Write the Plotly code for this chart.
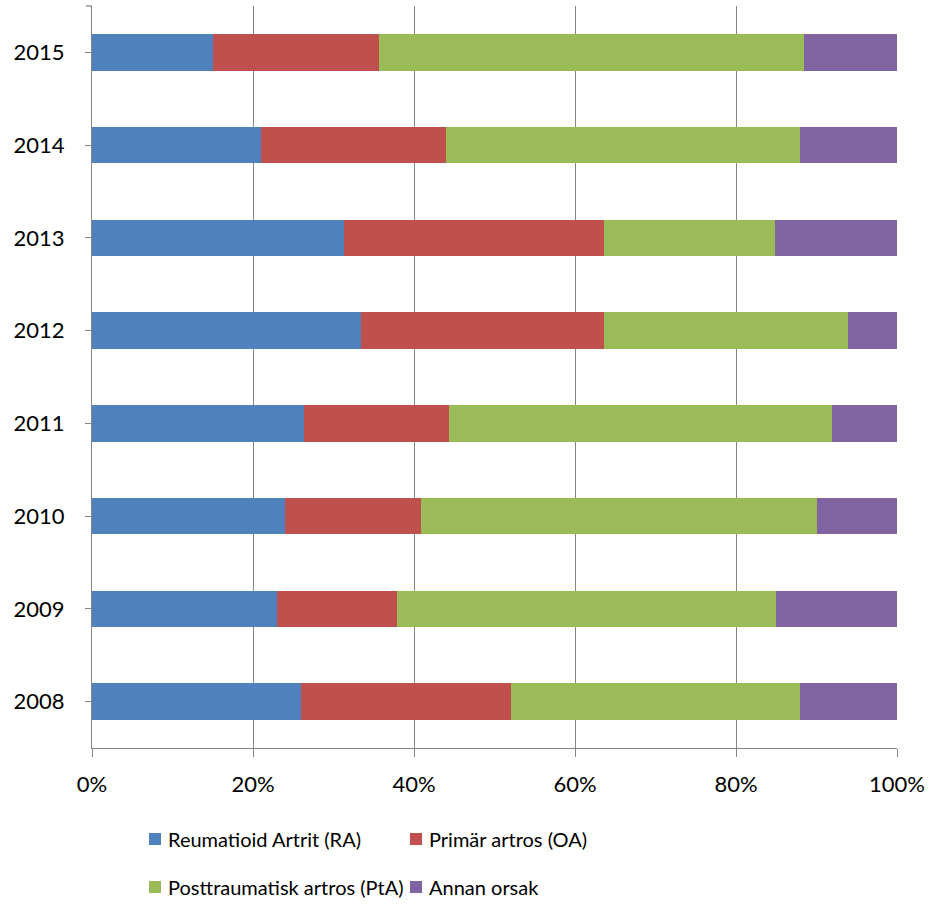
import plotly.graph_objects as go

# Orsak till primäroperation per år (andel i procent)
years = ["2008", "2009", "2010", "2011", "2012", "2013", "2014", "2015"]
series_names = [
    "Reumatioid Artrit (RA)",
    "Primär artros (OA)",
    "Posttraumatisk artros (PtA)",
    "Annan orsak",
]
ra = [26.0, 23.0, 24.0, 26.3, 33.4, 31.3, 21.0, 15.0]
oa = [26.0, 14.9, 16.9, 18.1, 30.2, 32.3, 23.0, 20.6]
pta = [36.0, 47.1, 49.1, 47.5, 30.3, 21.3, 44.0, 52.9]
annan = [12.0, 15.0, 10.0, 8.1, 6.1, 15.1, 12.0, 11.5]
x_ticks = [0, 20, 40, 60, 80, 100]
x_tick_labels = ["0%", "20%", "40%", "60%", "80%", "100%"]

colors = ["#4F81BD", "#C0504D", "#9BBB59", "#8064A2"]
values = [ra, oa, pta, annan]

W, H = 930, 904
L, R, T, B = 92, 33, 6, 156
FONT = "Lato"
AXIS_GRAY = "#868686"

fig = go.Figure()
for name, vals, col in zip(series_names, values, colors):
    fig.add_trace(go.Bar(
        y=years, x=vals, name=name, orientation="h",
        marker=dict(color=col, line=dict(width=0)),
        showlegend=False,
    ))

fig.update_layout(
    width=W, height=H,
    margin=dict(l=L, r=R, t=T, b=B, pad=0),
    barmode="stack", barnorm="percent", bargap=0.604,
    plot_bgcolor="white", paper_bgcolor="white",
    font=dict(family=FONT, size=22, color="black"),
)
fig.update_xaxes(
    range=[0, 100], tickmode="array", tickvals=x_ticks, ticktext=x_tick_labels,
    showgrid=True, gridcolor=AXIS_GRAY, gridwidth=1.3,
    showline=True, linecolor=AXIS_GRAY, linewidth=1.3,
    ticks="outside", ticklen=8, tickcolor=AXIS_GRAY, tickwidth=1.3,
    ticklabelstandoff=8, zeroline=False,
    tickfont=dict(family=FONT, size=22),
)
fig.update_yaxes(
    type="category", categoryorder="array", categoryarray=years,
    showgrid=False, showline=True, linecolor=AXIS_GRAY, linewidth=1.3,
    ticks="outside", ticklen=6, tickcolor=AXIS_GRAY, tickwidth=1.3,
    ticklabelstandoff=16,
    tickfont=dict(family=FONT, size=22),
)

# small end tick at the top of the category axis
fig.add_shape(type="line", xref="paper", yref="paper",
              x0=-6 / (W - L - R), x1=0, y0=1, y1=1,
              line=dict(color=AXIS_GRAY, width=1.3))

# legend: two rows, two columns below the chart
plot_w = W - L - R
plot_h = H - T - B


def px_x(px):
    return (px - L) / plot_w


def px_y(py):
    return (H - B - py) / plot_h


legend_pos = [(149, 839), (410, 839), (149, 887), (410, 887)]
for name, col, (sx, sy) in zip(series_names, colors, legend_pos):
    fig.add_shape(type="rect", xref="paper", yref="paper",
                  x0=px_x(sx), x1=px_x(sx + 12),
                  y0=px_y(sy - 6), y1=px_y(sy + 6),
                  fillcolor=col, line=dict(width=0))
    fig.add_annotation(xref="paper", yref="paper",
                       x=px_x(sx + 17), y=px_y(sy),
                       xanchor="left", yanchor="middle",
                       text=name, showarrow=False,
                       font=dict(family=FONT, size=20, color="black"))

fig.write_html("out.html")
